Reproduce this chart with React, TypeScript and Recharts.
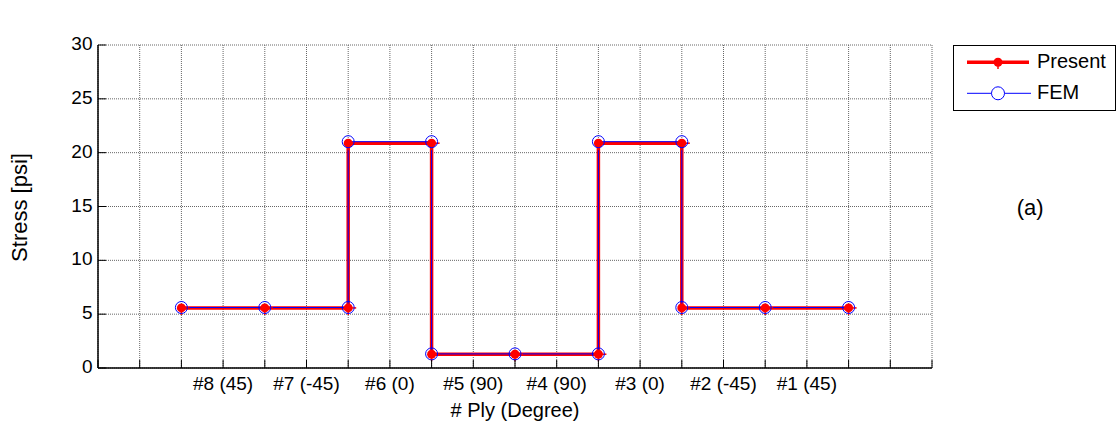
import React from 'react';
import { LineChart, Line, XAxis, YAxis, CartesianGrid, Legend } from 'recharts';

const plyX = [2, 4, 6, 6, 8, 8, 10, 12, 12, 14, 14, 16, 18];
const presentStress = [5.58, 5.58, 5.58, 20.88, 20.88, 1.28, 1.28, 1.28, 20.88, 20.88, 5.58, 5.58, 5.58];
const femStress = [5.62, 5.62, 5.62, 21.02, 21.02, 1.31, 1.31, 1.31, 21.02, 21.02, 5.62, 5.62, 5.62];
const plyLabels = ['#8 (45)', '#7 (-45)', '#6 (0)', '#5 (90)', '#4 (90)', '#3 (0)', '#2 (-45)', '#1 (45)'];
const plyLabelPos = [3, 5, 7, 9, 11, 13, 15, 17];
const xTicks = [0, 1, 2, 3, 4, 5, 6, 7, 8, 9, 10, 11, 12, 13, 14, 15, 16, 17, 18, 19, 20];
const yTicks = [0, 5, 10, 15, 20, 25, 30];

const data = plyX.map((x, i) => ({ x, present: presentStress[i], fem: femStress[i] }));

const FONT = "'Liberation Sans', Arial, Helvetica, sans-serif";

const BottomTick = (props: any) => {
  const { x, y, payload } = props;
  const idx = plyLabelPos.indexOf(payload.value);
  return (
    <g>
      <line x1={x} x2={x} y1={y} y2={y - 8} stroke="#000" strokeWidth={1} />
      {idx >= 0 && (
        <text x={x} y={y + 22} textAnchor="middle" fontSize={19} fill="#000" fontFamily={FONT}>
          {plyLabels[idx]}
        </text>
      )}
    </g>
  );
};

const TopTick = (props: any) => {
  const { x, y } = props;
  return <line x1={x} x2={x} y1={y} y2={y + 8} stroke="#000" strokeWidth={1} />;
};

const LeftTick = (props: any) => {
  const { x, y, payload } = props;
  return (
    <g>
      <line x1={x} x2={x + 8} y1={y} y2={y} stroke="#000" strokeWidth={1} />
      <text x={x - 5.5} y={y + 5} textAnchor="end" fontSize={19} fill="#000" fontFamily={FONT}>
        {payload.value}
      </text>
    </g>
  );
};

const RightTick = (props: any) => {
  const { x, y } = props;
  return <line x1={x} x2={x - 8} y1={y} y2={y} stroke="#000" strokeWidth={1} />;
};

const PresentDot = (props: any) => {
  const { cx, cy, index } = props;
  if (cx == null || cy == null) return null;
  return (
    <g key={`p-${index}`}>
      <circle cx={cx} cy={cy} r={4.5} fill="#ff0000" />
      <line x1={cx - 2} x2={cx + 8} y1={cy} y2={cy} stroke="#ff0000" strokeWidth={1.5} />
      <line x1={cx} x2={cx} y1={cy} y2={cy + 7} stroke="#ff0000" strokeWidth={1.5} />
    </g>
  );
};

const FemDot = (props: any) => {
  const { cx, cy, index } = props;
  if (cx == null || cy == null) return null;
  return <circle key={`f-${index}`} cx={cx} cy={cy} r={6} fill="none" stroke="#0000ff" strokeWidth={1} />;
};

const LegendBox = () => (
  <div
    style={{
      width: 163,
      height: 66,
      boxSizing: 'border-box',
      border: '1px solid #000',
      background: '#fff',
      position: 'relative',
    }}
  >
    <svg width={163} height={66} style={{ position: 'absolute', left: -1, top: -1 }}>
      <line x1={14} x2={76} y1={17.3} y2={17.3} stroke="#ff0000" strokeWidth={3.5} />
      <circle cx={45} cy={17.3} r={4.5} fill="#ff0000" />
      <line x1={45} x2={53} y1={17.3} y2={17.3} stroke="#ff0000" strokeWidth={1.5} />
      <line x1={45} x2={45} y1={17.3} y2={24} stroke="#ff0000" strokeWidth={1.5} />
      <text x={84} y={22.5} fontSize={20} fontFamily={FONT} fill="#000">Present</text>
      <line x1={14} x2={78} y1={48.3} y2={48.3} stroke="#0000ff" strokeWidth={1} />
      <circle cx={45} cy={48.3} r={6.5} fill="#fff" stroke="#0000ff" strokeWidth={1} />
      <text x={84} y={53.5} fontSize={20} fontFamily={FONT} fill="#000">FEM</text>
    </svg>
  </div>
);

const SideLabels = () => (
  <g>
    <text
      x={19.5}
      y={207.5}
      transform="rotate(-90 19.5 207.5)"
      textAnchor="middle"
      dominantBaseline="central"
      fontSize={22}
      fontFamily={FONT}
      fill="#000"
    >
      Stress [psi]
    </text>
    <text x={1016.7} y={214.5} fontSize={22} fontFamily={FONT} fill="#000">
      (a)
    </text>
  </g>
);

export default function App() {
  return (
    <div style={{ position: 'absolute', left: 0, top: 0, width: 1118, height: 423, background: '#fff', fontFamily: FONT }}>
      <LineChart
        width={1118}
        height={423}
        data={data}
        margin={{ top: 45, right: 186, bottom: 0, left: 38 }}
      >
        <CartesianGrid stroke="#666" strokeDasharray="1 1" horizontal={true} vertical={true} />
        <XAxis
          dataKey="x"
          type="number"
          domain={[0, 20]}
          ticks={xTicks}
          interval={0}
          height={55}
          tickSize={0}
          tickMargin={0}
          tickLine={false}
          tick={<BottomTick />}
          axisLine={{ stroke: '#000', strokeWidth: 1.5 }}
          label={{ value: '# Ply (Degree)', position: 'insideBottom', offset: 6.5, fontSize: 20, fill: '#000', fontFamily: FONT }}
        />
        <XAxis
          xAxisId="top"
          dataKey="x"
          type="number"
          orientation="top"
          domain={[0, 20]}
          ticks={xTicks}
          interval={0}
          height={0}
          tickSize={0}
          tickMargin={0}
          tickLine={false}
          tick={<TopTick />}
          axisLine={{ stroke: '#000', strokeWidth: 1 }}
          label={{ value: 'Top Flange: Sx vs Thickness', position: 'top', offset: 20, fontSize: 20, fill: '#000', fontFamily: FONT }}
        />
        <YAxis
          type="number"
          domain={[0, 30]}
          ticks={yTicks}
          interval={0}
          width={60}
          tickSize={0}
          tickMargin={0}
          tickLine={false}
          tick={<LeftTick />}
          axisLine={{ stroke: '#000', strokeWidth: 1.5 }}
          label={{ content: () => <SideLabels /> }}
        />
        <YAxis
          yAxisId="right"
          type="number"
          orientation="right"
          domain={[0, 30]}
          ticks={yTicks}
          interval={0}
          width={0}
          tickSize={0}
          tickMargin={0}
          tickLine={false}
          tick={<RightTick />}
          axisLine={{ stroke: '#000', strokeWidth: 1 }}
        />
        <Legend
          layout="horizontal"
          verticalAlign="middle"
          align="center"
          wrapperStyle={{ position: 'absolute', left: 953, top: 45, width: 163, height: 66, margin: 0, padding: 0 }}
          content={() => <LegendBox />}
        />
        <Line
          dataKey="present"
          type="linear"
          stroke="#ff0000"
          strokeWidth={3.5}
          dot={<PresentDot />}
          activeDot={false}
          isAnimationActive={false}
        />
        <Line
          dataKey="fem"
          type="linear"
          stroke="#0000ff"
          strokeWidth={1}
          dot={<FemDot />}
          activeDot={false}
          isAnimationActive={false}
        />
      </LineChart>
    </div>
  );
}
